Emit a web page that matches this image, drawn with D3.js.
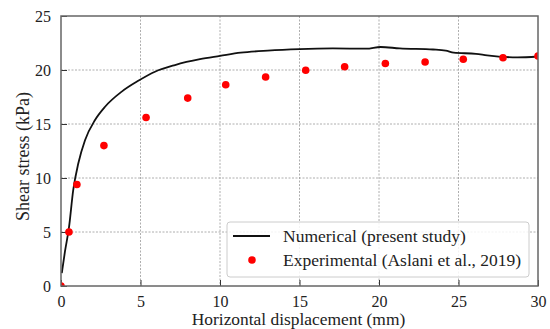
<!DOCTYPE html>
<html>
<head>
<meta charset="utf-8">
<script src="https://cdn.jsdelivr.net/npm/d3@7"></script>
<style>
  body { margin: 0; background: #fff; }
  text { font-family: "Liberation Serif", "Times New Roman", serif; fill: #222; }
</style>
</head>
<body>
<div id="chart"></div>
<script>
// numerical curve (present study)
var numX = [0.05, 0.25, 0.5, 0.77, 1.09, 1.51, 2.14, 2.77, 3.82, 4.86, 5.91, 7.17, 8.74, 10, 11.3, 13, 15, 17.1, 19.2, 20.1, 21.3, 23.4, 24.2, 24.7, 26.1, 26.8, 28.7, 30];
var numY = [1.2, 3.2, 5.4, 8.9, 11.36, 13.5, 15.37, 16.6, 18.0, 19.0, 19.84, 20.46, 21.0, 21.3, 21.6, 21.8, 21.94, 22.0, 21.97, 22.13, 22.0, 21.9, 21.8, 21.6, 21.5, 21.35, 21.17, 21.25];

// experimental points (Aslani et al., 2019)
var expX = [0, 0.5, 1.0, 2.7, 5.35, 7.97, 10.36, 12.87, 15.39, 17.84, 20.4, 22.9, 25.3, 27.8, 30];
var expY = [0, 5.0, 9.4, 13.0, 15.6, 17.4, 18.64, 19.35, 19.97, 20.3, 20.6, 20.74, 21.0, 21.14, 21.3];

var xTicks = [0, 5, 10, 15, 20, 25, 30];
var yTicks = [0, 5, 10, 15, 20, 25];

var W = 550, H = 329,
    margin = {top: 16, right: 12, bottom: 43, left: 61};
var width = W - margin.left - margin.right,
    height = H - margin.top - margin.bottom;

var svg = d3.select('#chart').append('svg')
    .attr('width', W)
    .attr('height', H);

var g = svg.append('g').attr('transform', 'translate(' + margin.left + ',' + margin.top + ')');

var x = d3.scaleLinear().domain([0, 30]).range([0, width]);
var y = d3.scaleLinear().domain([0, 25]).range([height, 0]);

g.append('clipPath').attr('id', 'clip')
  .append('rect').attr('width', width).attr('height', height);

// grid
g.append('g').selectAll('line').data(xTicks.slice(1, -1)).enter().append('line')
    .attr('x1', function(d) { return x(d); }).attr('x2', function(d) { return x(d); })
    .attr('y1', 0).attr('y2', height)
    .attr('stroke', '#999').attr('stroke-width', 0.8).attr('stroke-dasharray', '2,1.5');
g.append('g').selectAll('line').data(yTicks.slice(1, -1)).enter().append('line')
    .attr('y1', function(d) { return y(d); }).attr('y2', function(d) { return y(d); })
    .attr('x1', 0).attr('x2', width)
    .attr('stroke', '#999').attr('stroke-width', 0.8).attr('stroke-dasharray', '2,1.5');

// axes
var xAxis = g.append('g')
    .attr('transform', 'translate(0,' + height + ')')
    .call(d3.axisBottom(x).tickValues(xTicks).tickSizeInner(-6).tickSizeOuter(0).tickPadding(10));
var yAxis = g.append('g')
    .call(d3.axisLeft(y).tickValues(yTicks).tickSizeInner(-6).tickSizeOuter(0).tickPadding(10));
[xAxis, yAxis].forEach(function(a) {
  a.select('.domain').remove();
  a.selectAll('line').attr('stroke', '#333').attr('stroke-width', 1);
  a.selectAll('text').style('font-family', '"Liberation Serif", serif').style('font-size', '16px').attr('fill', '#222');
});

// data
var line = d3.line()
    .x(function(d, i) { return x(numX[i]); })
    .y(function(d, i) { return y(numY[i]); })
    .curve(d3.curveMonotoneX);

g.append('path')
    .datum(numX)
    .attr('d', line)
    .attr('fill', 'none')
    .attr('stroke', '#111')
    .attr('stroke-width', 1.8)
    .attr('clip-path', 'url(#clip)');

g.append('g').attr('clip-path', 'url(#clip)')
  .selectAll('circle').data(expX).enter().append('circle')
    .attr('cx', function(d) { return x(d); })
    .attr('cy', function(d, i) { return y(expY[i]); })
    .attr('r', 3.8)
    .attr('fill', '#ff0000');

// frame
g.append('rect')
    .attr('width', width).attr('height', height)
    .attr('fill', 'none').attr('stroke', '#666').attr('stroke-width', 1.5);

// legend
var lg = g.append('g').attr('transform', 'translate(' + (227 - margin.left) + ',' + (222 - margin.top) + ')');
lg.append('rect')
    .attr('width', 302).attr('height', 55).attr('rx', 3)
    .attr('fill', 'rgba(255,255,255,0.85)').attr('stroke', '#ccc').attr('stroke-width', 1);
lg.append('line')
    .attr('x1', 6).attr('x2', 43).attr('y1', 14).attr('y2', 14)
    .attr('stroke', '#111').attr('stroke-width', 1.8);
lg.append('circle').attr('cx', 25).attr('cy', 38).attr('r', 3.8).attr('fill', '#ff0000');
lg.append('text').attr('x', 56).attr('y', 20).style('font-size', '17.5px').text('Numerical (present study)');
lg.append('text').attr('x', 56).attr('y', 44).style('font-size', '17.5px').text('Experimental (Aslani et al., 2019)');

// axis labels
svg.append('text')
    .attr('x', 298.5).attr('y', 325)
    .attr('text-anchor', 'middle').style('font-size', '17.4px')
    .text('Horizontal displacement (mm)');
svg.append('text')
    .attr('transform', 'translate(29,156.5) rotate(-90)')
    .attr('text-anchor', 'middle').style('font-size', '18px')
    .text('Shear stress (kPa)');
</script>
</body>
</html>
